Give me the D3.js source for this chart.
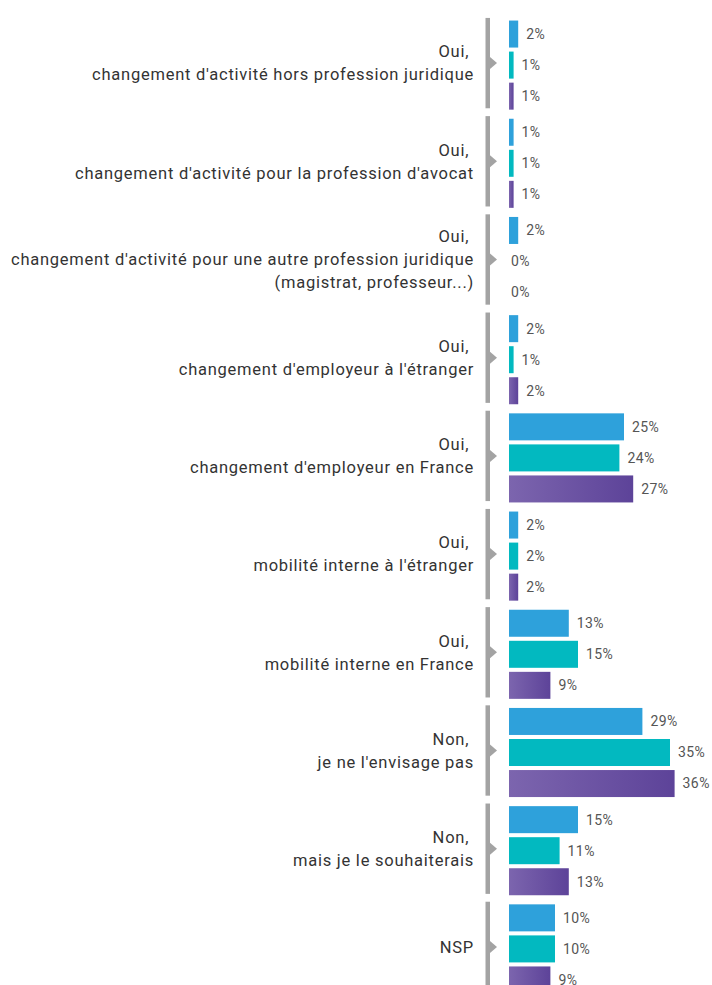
<!DOCTYPE html>
<html><head><meta charset="utf-8">
<script src="https://cdn.jsdelivr.net/npm/d3@7"></script>
<style>
html,body{margin:0;padding:0;background:#fff;}
svg{display:block;}
</style></head>
<body>
<script>
const categories = [
  "Oui, \nchangement d'activité hors profession juridique",
  "Oui, \nchangement d'activité pour la profession d'avocat",
  "Oui, \nchangement d'activité pour une autre profession juridique\n(magistrat, professeur...)",
  "Oui, \nchangement d'employeur à l'étranger",
  "Oui, \nchangement d'employeur en France",
  "Oui, \nmobilité interne à l'étranger",
  "Oui, \nmobilité interne en France",
  "Non, \nje ne l'envisage pas",
  "Non, \nmais je le souhaiterais",
  "NSP"
];
const seriesNames = ["s1", "s2", "s3"];
const valuesS1 = [2, 1, 2, 2, 25, 2, 13, 29, 15, 10];
const valuesS2 = [1, 1, 0, 1, 24, 2, 15, 35, 11, 10];
const valuesS3 = [1, 1, 0, 2, 27, 2, 9, 36, 13, 9];

const W = 712, H = 985;
const svg = d3.select("body").append("svg").attr("width", W).attr("height", H);

const defs = svg.append("defs");
const grad = defs.append("linearGradient").attr("id", "purpleGrad")
  .attr("x1", "0%").attr("x2", "100%").attr("y1", "0%").attr("y2", "0%");
grad.append("stop").attr("offset", "0%").attr("stop-color", "#7c65ae");
grad.append("stop").attr("offset", "100%").attr("stop-color", "#5d4399");

const fills = ["#2ea1db", "#02b9c0", "url(#purpleGrad)"];
const allSeries = [valuesS1, valuesS2, valuesS3];

const y = d3.scaleBand().domain(categories).range([14, 996])
  .paddingInner(0.08).paddingOuter(0.04);
const yInner = d3.scaleBand().domain(seriesNames).range([2, y.bandwidth() + 2])
  .paddingInner(0.13).paddingOuter(0.02);
const x = d3.scaleLinear().domain([0, 40]).range([509, 693]);

const sepX = 485.5, sepW = 4.5;
const labelRight = 474;
const grey = "#a3a3a3";
const FONT = "Roboto, 'Open Sans', sans-serif";

const groups = svg.selectAll("g.grp").data(categories).enter().append("g")
  .attr("class", "grp")
  .attr("transform", d => `translate(0,${y(d)})`);

groups.append("rect")
  .attr("x", sepX).attr("y", 0).attr("width", sepW).attr("height", y.bandwidth())
  .attr("fill", grey);
groups.append("path")
  .attr("d", () => {
    const cy = y.bandwidth() / 2;
    return `M${sepX + sepW},${cy - 6}L${sepX + sepW + 7},${cy}L${sepX + sepW},${cy + 6}Z`;
  })
  .attr("fill", grey);

groups.each(function (d) {
  const lines = d.split("\n");
  const lh = 23;
  const cy = y.bandwidth() / 2;
  const t = d3.select(this).append("text")
    .attr("text-anchor", "end")
    .attr("font-family", FONT)
    .attr("font-size", 16.5)
    .attr("letter-spacing", 0.75)
    .attr("fill", "#333")
    .style("white-space", "pre");
  lines.forEach((ln, i) => {
    t.append("tspan")
      .attr("x", labelRight)
      .attr("y", cy + (i - (lines.length - 1) / 2) * lh)
      .attr("dy", "0.35em")
      .text(ln);
  });
});

groups.each(function (d, gi) {
  const g = d3.select(this);
  seriesNames.forEach((s, si) => {
    const v = allSeries[si][gi];
    const by = yInner(s);
    if (v > 0) {
      g.append("rect")
        .attr("x", x(0)).attr("y", by)
        .attr("width", x(v) - x(0)).attr("height", yInner.bandwidth())
        .attr("fill", fills[si]);
    }
    g.append("text")
      .attr("x", x(v) + (v > 0 ? 8 : 2))
      .attr("y", by + yInner.bandwidth() / 2)
      .attr("dy", "0.35em")
      .attr("font-family", FONT)
      .attr("font-size", 14)
      .attr("letter-spacing", 0.4)
      .attr("fill", "#555")
      .text(v + "%");
  });
});
</script>
</body></html>
